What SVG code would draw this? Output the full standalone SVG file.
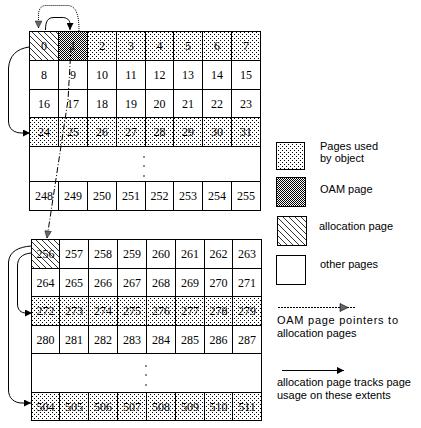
<svg xmlns="http://www.w3.org/2000/svg" width="421" height="428" viewBox="0 0 421 428">
<defs>
<style>
rect{stroke:#000;stroke-width:1;fill:#fff}
.o{fill:url(#dots)}
.m{fill:url(#chk)}
.a{fill:url(#hatch)}
.e{fill:#000;stroke:none}
text.n{font-family:"Liberation Serif",serif;font-size:12px;text-anchor:middle;fill:#000}
text.l{font-family:"Liberation Sans",Arial,sans-serif;font-size:11px;fill:#000}
.sol{fill:none;stroke:#000;stroke-width:1}
.dot{fill:none;stroke:#000;stroke-width:1;stroke-dasharray:1,1}
.dd{fill:none;stroke:#000;stroke-width:1;stroke-dasharray:6,2,1,2}
.ld{fill:none;stroke:#000;stroke-width:1;stroke-dasharray:2,1}
</style>
<pattern id="dots" patternUnits="userSpaceOnUse" width="4" height="4">
<rect x="0" y="0" width="4" height="4" style="fill:#fff;stroke:none"/>
<rect x="0" y="0" width="1" height="1" style="fill:#000;stroke:none"/>
<rect x="2" y="2" width="1" height="1" style="fill:#000;stroke:none"/>
</pattern>
<pattern id="chk" patternUnits="userSpaceOnUse" width="2" height="2">
<rect x="0" y="0" width="2" height="2" style="fill:#fff;stroke:none"/>
<rect x="0" y="0" width="1" height="1" style="fill:#000;stroke:none"/>
<rect x="1" y="1" width="1" height="1" style="fill:#000;stroke:none"/>
</pattern>
<pattern id="hatch" patternUnits="userSpaceOnUse" width="6" height="6">
<rect x="0" y="0" width="6" height="6" style="fill:#fff;stroke:none"/>
<path d="M0,0 L6,6 M-1,5 L1,7 M5,-1 L7,1" stroke="#000" stroke-width="0.8"/>
</pattern>
<marker id="ah" viewBox="0 0 10 10" refX="10" refY="5" markerWidth="9" markerHeight="7" markerUnits="userSpaceOnUse" orient="auto">
<path d="M0,0 L10,5 L0,10 Z" fill="#000"/>
</marker>
<marker id="ahd" viewBox="0 0 10 10" refX="10" refY="5" markerWidth="9" markerHeight="7" markerUnits="userSpaceOnUse" orient="auto">
<path d="M0,0 L10,5 L0,10 Z" fill="#666" stroke="#000" stroke-width="0.6"/>
</marker>
</defs>
<rect x="0" y="0" width="421" height="428" style="fill:#fff;stroke:none"/>

<g id="extent-top">
<g id="p0"><rect class="a" x="29.5" y="31.5" width="29" height="29"/><text class="n" x="44" y="50">0</text></g>
<g id="p1"><rect class="m" x="58.5" y="31.5" width="29" height="29"/><text class="n" x="73" y="50">1</text></g>
<g id="p2"><rect class="o" x="87.5" y="31.5" width="29" height="29"/><text class="n" x="102" y="50">2</text></g>
<g id="p3"><rect class="o" x="116.5" y="31.5" width="29" height="29"/><text class="n" x="131" y="50">3</text></g>
<g id="p4"><rect class="o" x="145.5" y="31.5" width="28" height="29"/><text class="n" x="159.5" y="50">4</text></g>
<g id="p5"><rect class="o" x="173.5" y="31.5" width="29" height="29"/><text class="n" x="188" y="50">5</text></g>
<g id="p6"><rect class="o" x="202.5" y="31.5" width="29" height="29"/><text class="n" x="217" y="50">6</text></g>
<g id="p7"><rect class="o" x="231.5" y="31.5" width="29" height="29"/><text class="n" x="246" y="50">7</text></g>

<g id="p8"><rect x="29.5" y="60.5" width="29" height="29"/><text class="n" x="44" y="79">8</text></g>
<g id="p9"><rect x="58.5" y="60.5" width="29" height="29"/><text class="n" x="73" y="79">9</text></g>
<g id="p10"><rect x="87.5" y="60.5" width="29" height="29"/><text class="n" x="102" y="79">10</text></g>
<g id="p11"><rect x="116.5" y="60.5" width="29" height="29"/><text class="n" x="131" y="79">11</text></g>
<g id="p12"><rect x="145.5" y="60.5" width="28" height="29"/><text class="n" x="159.5" y="79">12</text></g>
<g id="p13"><rect x="173.5" y="60.5" width="29" height="29"/><text class="n" x="188" y="79">13</text></g>
<g id="p14"><rect x="202.5" y="60.5" width="29" height="29"/><text class="n" x="217" y="79">14</text></g>
<g id="p15"><rect x="231.5" y="60.5" width="29" height="29"/><text class="n" x="246" y="79">15</text></g>

<g id="p16"><rect x="29.5" y="89.5" width="29" height="28"/><text class="n" x="44" y="107.5">16</text></g>
<g id="p17"><rect x="58.5" y="89.5" width="29" height="28"/><text class="n" x="73" y="107.5">17</text></g>
<g id="p18"><rect x="87.5" y="89.5" width="29" height="28"/><text class="n" x="102" y="107.5">18</text></g>
<g id="p19"><rect x="116.5" y="89.5" width="29" height="28"/><text class="n" x="131" y="107.5">19</text></g>
<g id="p20"><rect x="145.5" y="89.5" width="28" height="28"/><text class="n" x="159.5" y="107.5">20</text></g>
<g id="p21"><rect x="173.5" y="89.5" width="29" height="28"/><text class="n" x="188" y="107.5">21</text></g>
<g id="p22"><rect x="202.5" y="89.5" width="29" height="28"/><text class="n" x="217" y="107.5">22</text></g>
<g id="p23"><rect x="231.5" y="89.5" width="29" height="28"/><text class="n" x="246" y="107.5">23</text></g>

<g id="p24"><rect class="o" x="29.5" y="117.5" width="29" height="29"/><text class="n" x="44" y="136">24</text></g>
<g id="p25"><rect class="o" x="58.5" y="117.5" width="29" height="29"/><text class="n" x="73" y="136">25</text></g>
<g id="p26"><rect class="o" x="87.5" y="117.5" width="29" height="29"/><text class="n" x="102" y="136">26</text></g>
<g id="p27"><rect class="o" x="116.5" y="117.5" width="29" height="29"/><text class="n" x="131" y="136">27</text></g>
<g id="p28"><rect class="o" x="145.5" y="117.5" width="28" height="29"/><text class="n" x="159.5" y="136">28</text></g>
<g id="p29"><rect class="o" x="173.5" y="117.5" width="29" height="29"/><text class="n" x="188" y="136">29</text></g>
<g id="p30"><rect class="o" x="202.5" y="117.5" width="29" height="29"/><text class="n" x="217" y="136">30</text></g>
<g id="p31"><rect class="o" x="231.5" y="117.5" width="29" height="29"/><text class="n" x="246" y="136">31</text></g>

<g id="gap-top"><rect x="29.5" y="146.5" width="231" height="35"/><circle class="e" cx="144" cy="157" r="0.8"/><circle class="e" cx="144" cy="166" r="0.8"/><circle class="e" cx="144" cy="176" r="0.8"/></g>

<g id="p248"><rect x="29.5" y="181.5" width="29" height="29"/><text class="n" x="44" y="200">248</text></g>
<g id="p249"><rect x="58.5" y="181.5" width="29" height="29"/><text class="n" x="73" y="200">249</text></g>
<g id="p250"><rect x="87.5" y="181.5" width="29" height="29"/><text class="n" x="102" y="200">250</text></g>
<g id="p251"><rect x="116.5" y="181.5" width="29" height="29"/><text class="n" x="131" y="200">251</text></g>
<g id="p252"><rect x="145.5" y="181.5" width="28" height="29"/><text class="n" x="159.5" y="200">252</text></g>
<g id="p253"><rect x="173.5" y="181.5" width="29" height="29"/><text class="n" x="188" y="200">253</text></g>
<g id="p254"><rect x="202.5" y="181.5" width="29" height="29"/><text class="n" x="217" y="200">254</text></g>
<g id="p255"><rect x="231.5" y="181.5" width="29" height="29"/><text class="n" x="246" y="200">255</text></g>
</g>

<g id="extent-bottom">
<g id="p256"><rect class="a" x="31.5" y="239.5" width="28" height="29"/><text class="n" x="45.5" y="258">256</text></g>
<g id="p257"><rect x="59.5" y="239.5" width="29" height="29"/><text class="n" x="74" y="258">257</text></g>
<g id="p258"><rect x="88.5" y="239.5" width="29" height="29"/><text class="n" x="103" y="258">258</text></g>
<g id="p259"><rect x="117.5" y="239.5" width="29" height="29"/><text class="n" x="132" y="258">259</text></g>
<g id="p260"><rect x="146.5" y="239.5" width="29" height="29"/><text class="n" x="161" y="258">260</text></g>
<g id="p261"><rect x="175.5" y="239.5" width="29" height="29"/><text class="n" x="190" y="258">261</text></g>
<g id="p262"><rect x="204.5" y="239.5" width="28" height="29"/><text class="n" x="218.5" y="258">262</text></g>
<g id="p263"><rect x="232.5" y="239.5" width="29" height="29"/><text class="n" x="247" y="258">263</text></g>

<g id="p264"><rect x="31.5" y="268.5" width="28" height="28"/><text class="n" x="45.5" y="286.5">264</text></g>
<g id="p265"><rect x="59.5" y="268.5" width="29" height="28"/><text class="n" x="74" y="286.5">265</text></g>
<g id="p266"><rect x="88.5" y="268.5" width="29" height="28"/><text class="n" x="103" y="286.5">266</text></g>
<g id="p267"><rect x="117.5" y="268.5" width="29" height="28"/><text class="n" x="132" y="286.5">267</text></g>
<g id="p268"><rect x="146.5" y="268.5" width="29" height="28"/><text class="n" x="161" y="286.5">268</text></g>
<g id="p269"><rect x="175.5" y="268.5" width="29" height="28"/><text class="n" x="190" y="286.5">269</text></g>
<g id="p270"><rect x="204.5" y="268.5" width="28" height="28"/><text class="n" x="218.5" y="286.5">270</text></g>
<g id="p271"><rect x="232.5" y="268.5" width="29" height="28"/><text class="n" x="247" y="286.5">271</text></g>

<g id="p272"><rect class="o" x="31.5" y="296.5" width="28" height="29"/><text class="n" x="45.5" y="315">272</text></g>
<g id="p273"><rect class="o" x="59.5" y="296.5" width="29" height="29"/><text class="n" x="74" y="315">273</text></g>
<g id="p274"><rect class="o" x="88.5" y="296.5" width="29" height="29"/><text class="n" x="103" y="315">274</text></g>
<g id="p275"><rect class="o" x="117.5" y="296.5" width="29" height="29"/><text class="n" x="132" y="315">275</text></g>
<g id="p276"><rect class="o" x="146.5" y="296.5" width="29" height="29"/><text class="n" x="161" y="315">276</text></g>
<g id="p277"><rect class="o" x="175.5" y="296.5" width="29" height="29"/><text class="n" x="190" y="315">277</text></g>
<g id="p278"><rect class="o" x="204.5" y="296.5" width="28" height="29"/><text class="n" x="218.5" y="315">278</text></g>
<g id="p279"><rect class="o" x="232.5" y="296.5" width="29" height="29"/><text class="n" x="247" y="315">279</text></g>

<g id="p280"><rect x="31.5" y="325.5" width="28" height="28"/><text class="n" x="45.5" y="343.5">280</text></g>
<g id="p281"><rect x="59.5" y="325.5" width="29" height="28"/><text class="n" x="74" y="343.5">281</text></g>
<g id="p282"><rect x="88.5" y="325.5" width="29" height="28"/><text class="n" x="103" y="343.5">282</text></g>
<g id="p283"><rect x="117.5" y="325.5" width="29" height="28"/><text class="n" x="132" y="343.5">283</text></g>
<g id="p284"><rect x="146.5" y="325.5" width="29" height="28"/><text class="n" x="161" y="343.5">284</text></g>
<g id="p285"><rect x="175.5" y="325.5" width="29" height="28"/><text class="n" x="190" y="343.5">285</text></g>
<g id="p286"><rect x="204.5" y="325.5" width="28" height="28"/><text class="n" x="218.5" y="343.5">286</text></g>
<g id="p287"><rect x="232.5" y="325.5" width="29" height="28"/><text class="n" x="247" y="343.5">287</text></g>

<g id="gap-bottom"><rect x="31.5" y="353.5" width="230" height="39"/><circle class="e" cx="146" cy="366" r="0.8"/><circle class="e" cx="146" cy="375" r="0.8"/><circle class="e" cx="146" cy="385" r="0.8"/></g>

<g id="p504"><rect class="o" x="31.5" y="392.5" width="28" height="28"/><text class="n" x="45.5" y="410.5">504</text></g>
<g id="p505"><rect class="o" x="59.5" y="392.5" width="29" height="28"/><text class="n" x="74" y="410.5">505</text></g>
<g id="p506"><rect class="o" x="88.5" y="392.5" width="29" height="28"/><text class="n" x="103" y="410.5">506</text></g>
<g id="p507"><rect class="o" x="117.5" y="392.5" width="29" height="28"/><text class="n" x="132" y="410.5">507</text></g>
<g id="p508"><rect class="o" x="146.5" y="392.5" width="29" height="28"/><text class="n" x="161" y="410.5">508</text></g>
<g id="p509"><rect class="o" x="175.5" y="392.5" width="29" height="28"/><text class="n" x="190" y="410.5">509</text></g>
<g id="p510"><rect class="o" x="204.5" y="392.5" width="28" height="28"/><text class="n" x="218.5" y="410.5">510</text></g>
<g id="p511"><rect class="o" x="232.5" y="392.5" width="29" height="28"/><text class="n" x="247" y="410.5">511</text></g>
</g>

<g id="connectors">
<path class="dot" d="M79,31 C79,12 75,5.5 67,5.5 L46,5.5 C41,5.5 38.5,9 38.5,16 L38.5,28" marker-end="url(#ahd)"/>
<path class="sol" d="M45.5,30 C45.5,21 48,17.5 54,17.5 L62,17.5 C67,17.5 70,20 70,24 L70,30" marker-end="url(#ah)"/>
<path class="sol" d="M29,47 C16,49 9.5,56 8.5,68 L8.5,121 C8.5,129 14,133 22,133 L30,133" marker-end="url(#ah)"/>
<path class="dd" d="M71,47 L68,100 L47,238" marker-end="url(#ahd)"/>
<path class="sol" d="M31,246 C19,247 9.5,251 8.5,262 L8.5,390 C8.5,398 14,403 22,403 L31,403" marker-end="url(#ah)"/>
<path class="sol" d="M31,253 C22,254 17.5,258 17.5,266 L17.5,304 C17.5,310 21,313 26,313 L32,313" marker-end="url(#ah)"/>
</g>

<g id="legend">
<g id="leg-obj"><rect class="o" x="276.5" y="142.5" width="28" height="27"/><text class="l" x="320" y="150">Pages used</text><text class="l" x="320" y="162">by object</text></g>
<g id="leg-oam"><rect class="m" x="276.5" y="177.5" width="29" height="29"/><text class="l" x="320" y="193">OAM page</text></g>
<g id="leg-alloc"><rect class="a" x="277.5" y="216.5" width="29" height="29"/><text class="l" x="319" y="230">allocation page</text></g>
<g id="leg-other"><rect x="276.5" y="255.5" width="29" height="29"/><text class="l" x="320" y="268">other pages</text></g>
<g id="leg-ptr"><path class="ld" d="M278,307.5 L356,307.5"/><path d="M340,303.5 L348,307.5 L340,311.5 Z" fill="#666" stroke="#000" stroke-width="0.6"/><text class="l" x="277" y="324" textLength="121" lengthAdjust="spacing">OAM page pointers to</text><text class="l" x="277" y="337">allocation pages</text></g>
<g id="leg-track"><path class="sol" d="M282,370.5 L344,370.5" marker-end="url(#ah)"/><text class="l" x="277" y="386">allocation page tracks page</text><text class="l" x="277" y="399">usage on these extents</text></g>
</g>
</svg>
